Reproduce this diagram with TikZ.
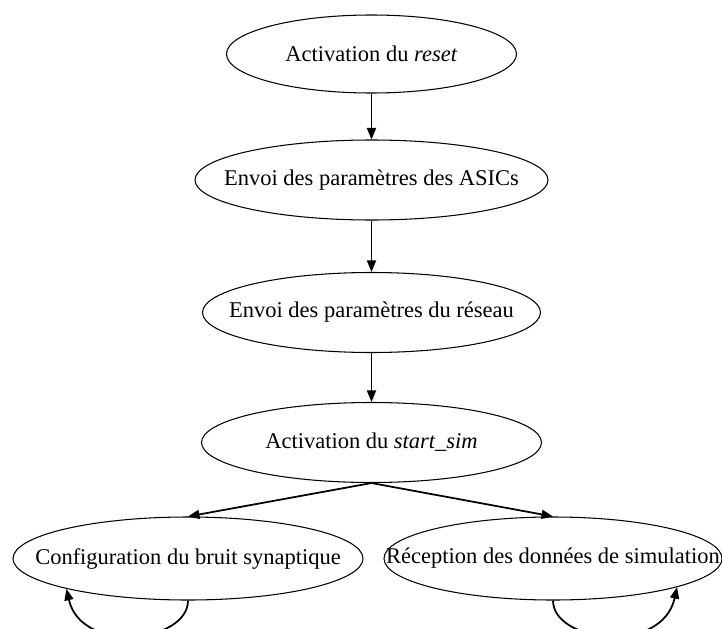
\documentclass[tikz,border=0pt]{standalone}
\usepackage{fontspec}
\setmainfont{Liberation Serif}
\usepackage{tikz}
\usetikzlibrary{arrows.meta,shapes.geometric}
\newcommand{\etiq}[1]{\makebox[0pt]{#1}}

\begin{document}
\begin{tikzpicture}[
      font=\fontsize{12.8}{15}\selectfont,
      >={Triangle[length=2.3mm,width=1.8mm]},
      etat/.style={ellipse,draw,line width=0.6pt,inner sep=0pt,minimum height=1.6cm},
      arr/.style={->,line width=1pt}
    ]
      \useasboundingbox (0,0) rectangle (14.44,-12.56);
      \clip (0,0) rectangle (14.44,-12.56);
      \node[etat,minimum width=5.8cm,minimum height=1.56cm] (reset) at (7.43,-1.08) {\etiq{Activation du \textit{reset}}};
      \node[etat,minimum width=7.06cm] (asics) at (7.43,-3.6) {\etiq{Envoi des paramètres des ASICs}};
      \node[etat,minimum width=6.76cm] (reseau) at (7.43,-6.25) {\etiq{Envoi des paramètres du réseau}};
      \node[etat,minimum width=6.8cm] (start) at (7.43,-8.85) {\etiq{Activation du \textit{start\_sim}}};
      \node[etat,minimum width=7.0cm,minimum height=1.66cm] (bruit) at (3.76,-11.17) {\etiq{Configuration du bruit synaptique}};
      \node[etat,minimum width=6.76cm,minimum height=1.66cm] (donnees) at (11.06,-11.17) {\etiq{Réception des données de simulation}};
      \draw[arr] (reset) -- (asics);
      \draw[arr] (asics) -- (reseau);
      \draw[arr] (reseau) -- (start);
      \draw[arr] (start.south) -- (bruit.north);
      \draw[arr] (start.south) -- (donnees.north);
      % boucles sous les deux derniers etats
      \draw[arr] (bruit.south) .. controls +(0,-0.84) and +(0.3,-1.32) .. (bruit.194);
      \draw[arr] (donnees.south) .. controls +(0,-0.84) and +(-0.3,-1.36) .. (donnees.-13);
    \end{tikzpicture}
\end{document}
